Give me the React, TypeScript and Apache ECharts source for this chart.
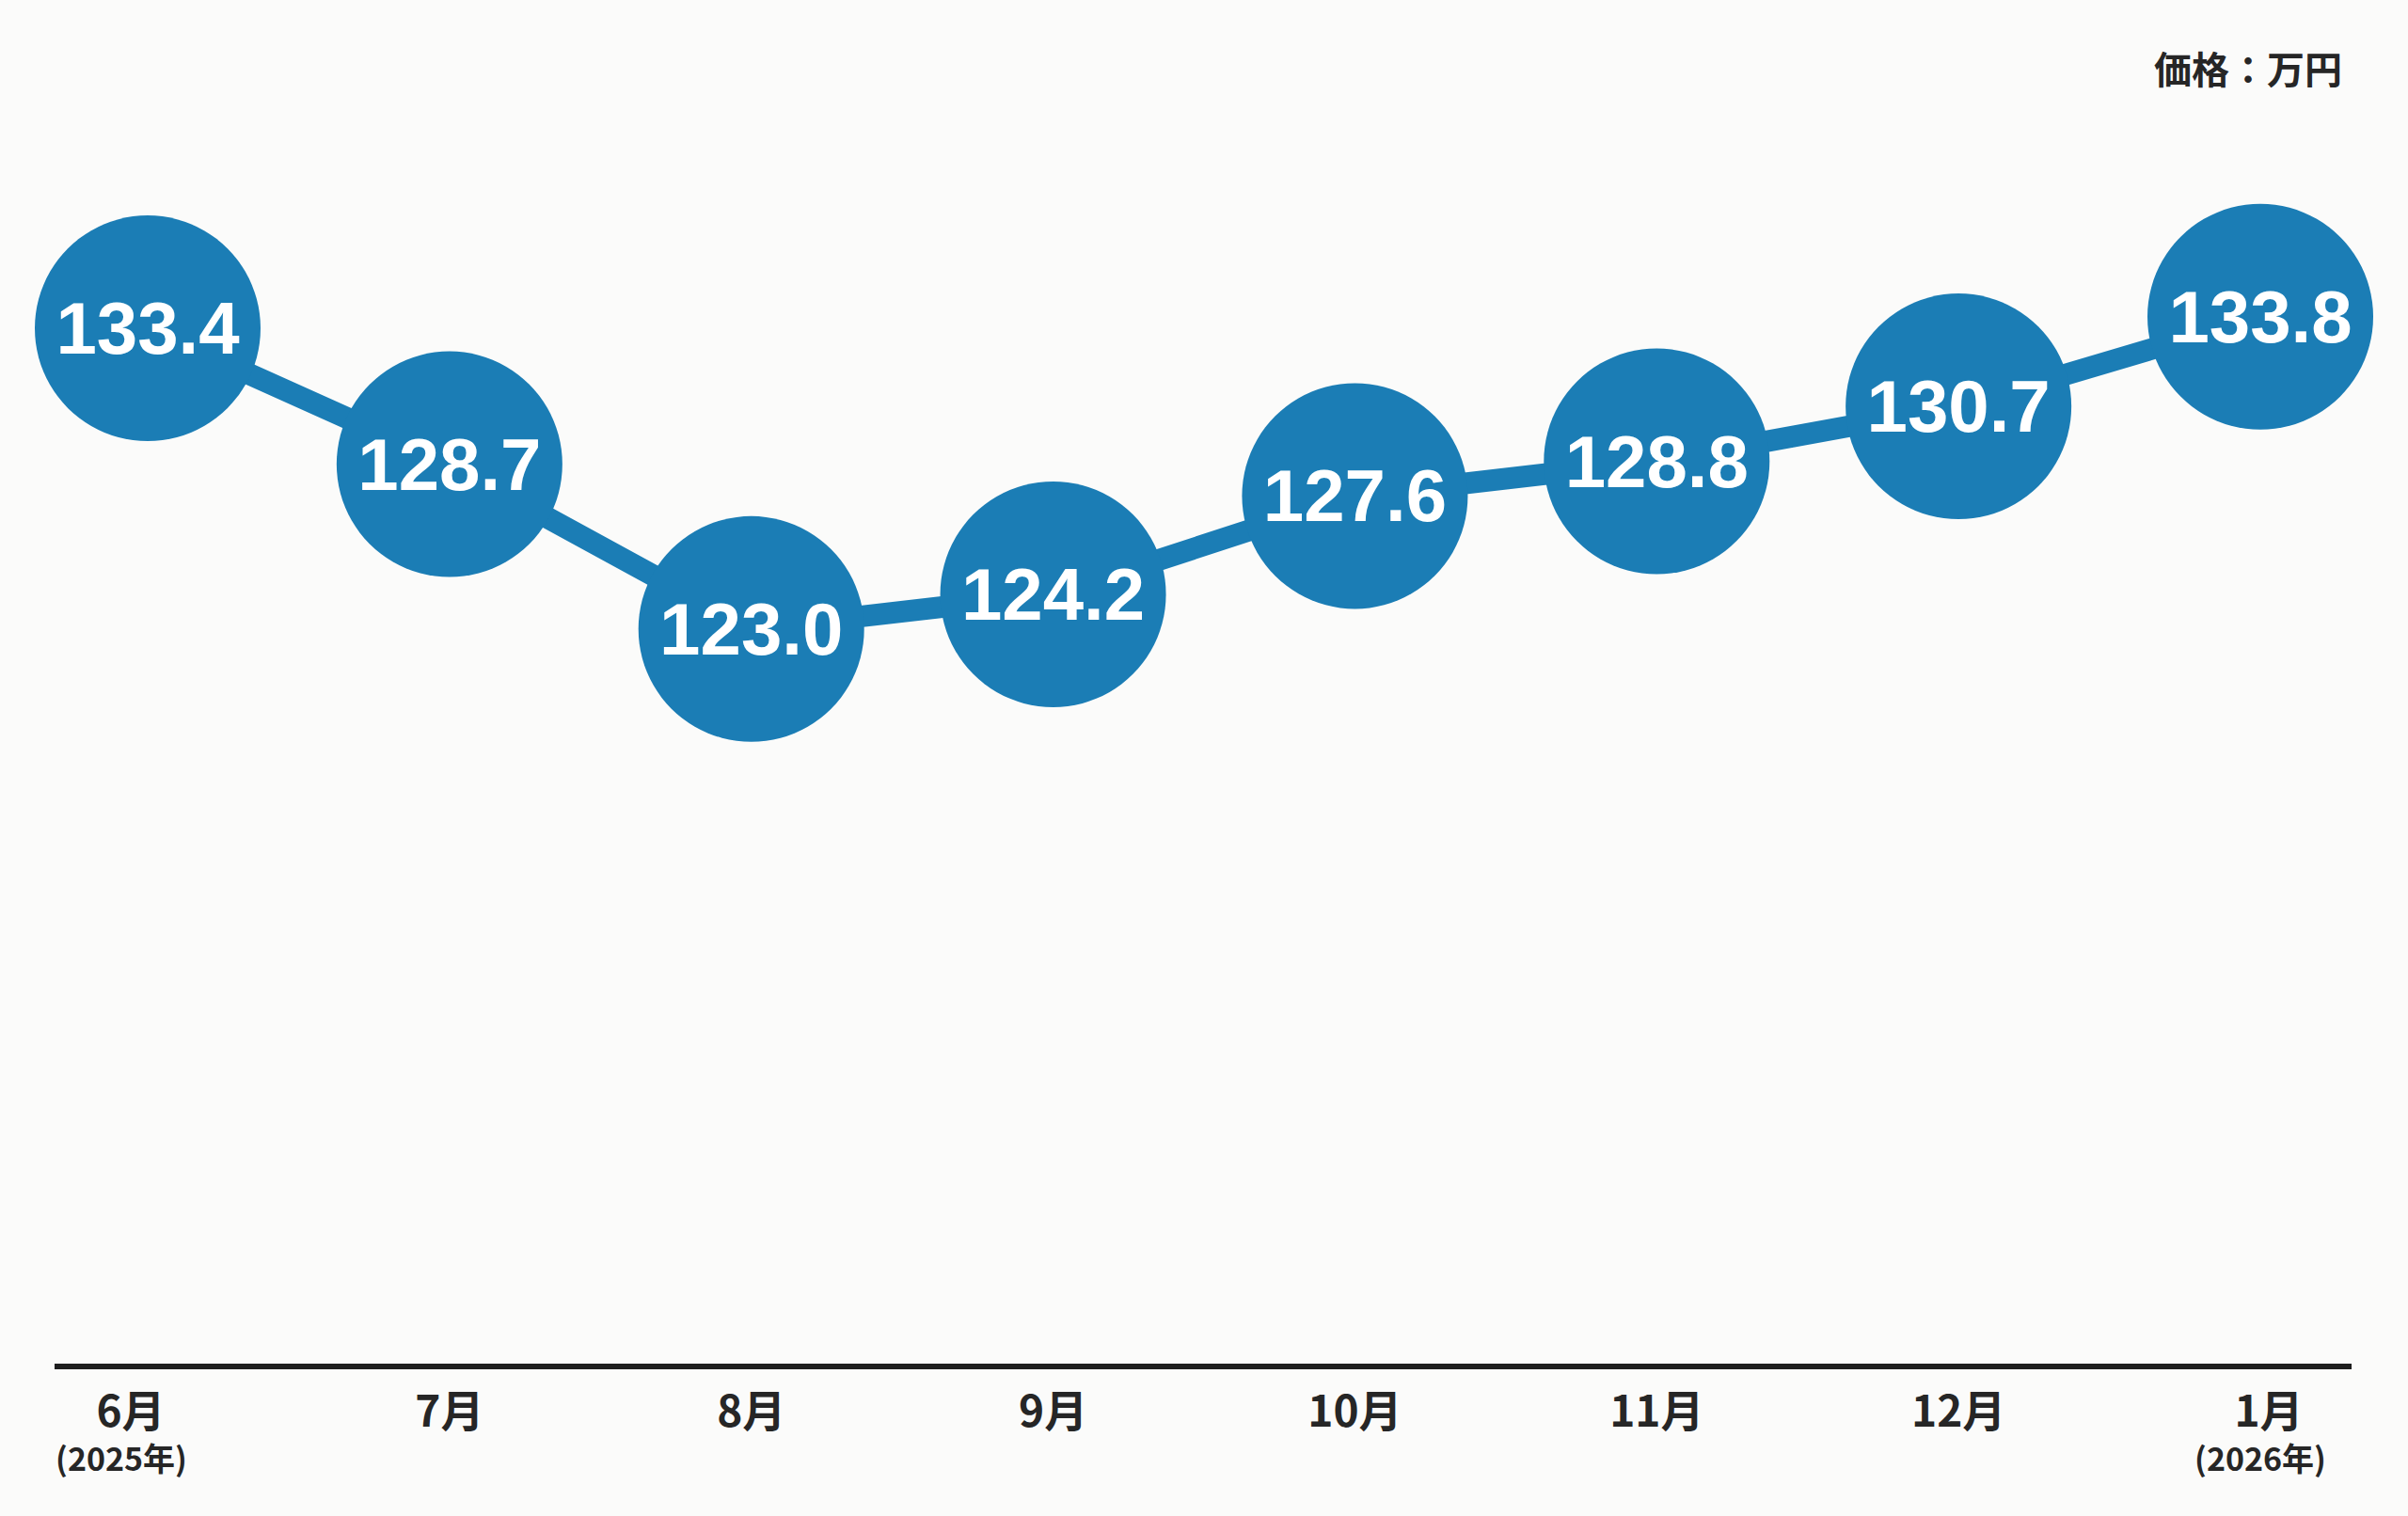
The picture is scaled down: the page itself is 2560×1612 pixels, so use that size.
import React, { useEffect, useRef } from "react";
import * as echarts from "echarts";

const months = ["6月", "7月", "8月", "9月", "10月", "11月", "12月", "1月"];
const yearNotes = ["(2025年)", "", "", "", "", "", "", "(2026年)"];
const prices = [133.4, 128.7, 123.0, 124.2, 127.6, 128.8, 130.7, 133.8];
const unitLabel = "価格：万円";

const BLUE = "#1b7db5";
const INK = "#262626";

export default function App() {
  const ref = useRef<HTMLDivElement>(null);
  useEffect(() => {
    if (!ref.current) return;
    const chart = echarts.init(ref.current, null, { renderer: "svg" });
    const mStyle = {
      fontSize: 46,
      lineHeight: 50,
      fontWeight: "bold",
      fontFamily: "Noto Sans CJK JP",
      color: INK,
    };
    const yStyle = {
      fontSize: 34,
      lineHeight: 54,
      fontWeight: "bold",
      fontFamily: "Noto Sans CJK JP",
      color: INK,
    };
    chart.setOption({
      animation: false,
      backgroundColor: "#fbfbfa",
      grid: { left: 157, right: 157, top: 100, bottom: 159 },
      graphic: [
        {
          type: "line",
          shape: { x1: 58, y1: 1453, x2: 2500, y2: 1453 },
          style: { stroke: "#1e1e1e", lineWidth: 6 },
          z: 1,
        },
        {
          type: "text",
          right: 70,
          top: 52,
          style: {
            text: unitLabel,
            fontSize: 40,
            fontWeight: "bold",
            fontFamily: "Noto Sans CJK JP",
            fill: INK,
          },
        },
      ],
      xAxis: {
        type: "category",
        data: months,
        boundaryGap: false,
        axisLine: { show: false },
        axisTick: { show: false },
        splitLine: { show: false },
        axisLabel: {
          margin: 19,
          interval: 0,
          formatter: (v: string, i: number) => {
            if (i === 0) return `{m0|${v}}\n{y0|${yearNotes[i]}}`;
            if (yearNotes[i]) return `{m1|${v}}\n{y|${yearNotes[i]}}`;
            return `{m|${v}}`;
          },
          rich: {
            m: mStyle,
            m0: { ...mStyle, padding: [0, 36, 0, 0] },
            m1: { ...mStyle, padding: [0, 0, 0, 18] },
            y: yStyle,
            y0: { ...yStyle, padding: [0, 56, 0, 0] },
          },
        },
      },
      yAxis: {
        type: "value",
        min: 97.5,
        max: 141.5,
        show: false,
        splitLine: { show: false },
      },
      series: [
        {
          type: "line",
          data: prices,
          symbol: "circle",
          symbolSize: 240,
          lineStyle: { color: BLUE, width: 23 },
          itemStyle: { color: BLUE },
          z: 3,
          label: {
            show: true,
            position: "inside",
            formatter: (p: any) => Number(p.value).toFixed(1),
            color: "#ffffff",
            fontSize: 78,
            fontWeight: "bold",
            fontFamily: "Liberation Sans",
          },
        },
      ],
    });
    return () => chart.dispose();
  }, []);
  return (
    <div
      ref={ref}
      style={{ position: "absolute", left: 0, top: 0, width: 2560, height: 1612 }}
    />
  );
}
